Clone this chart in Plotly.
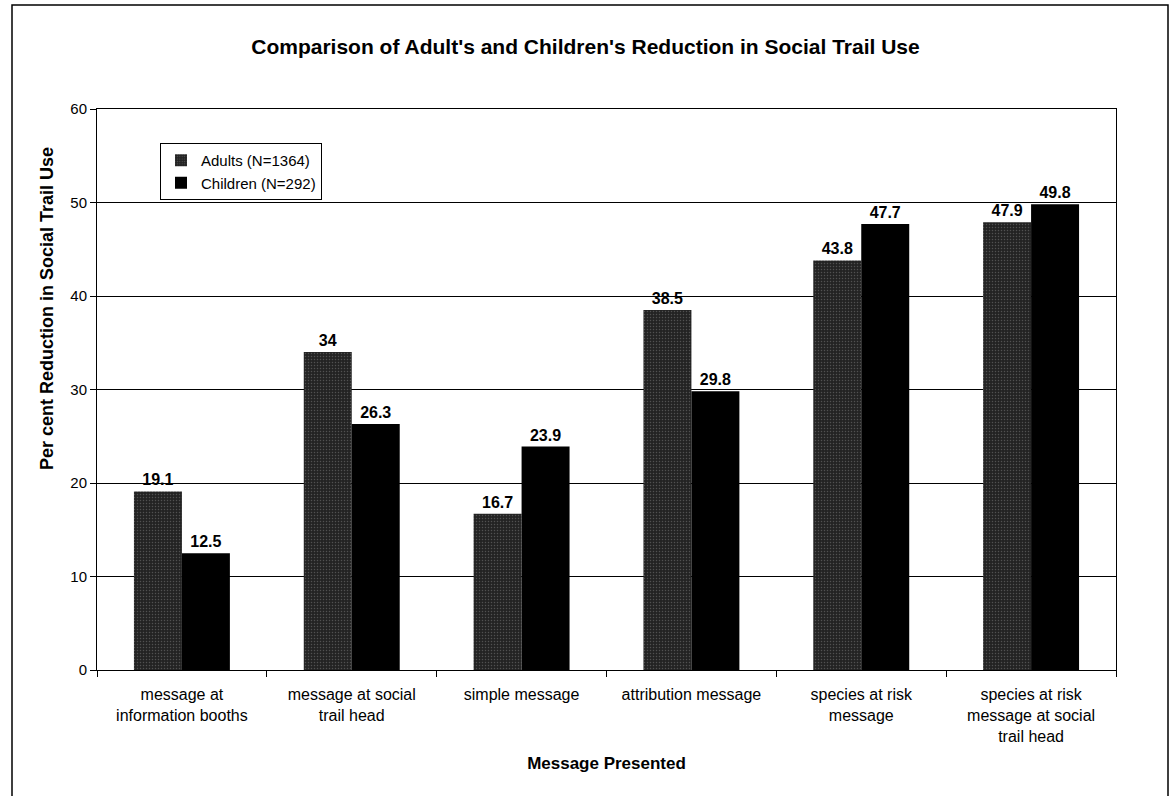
import plotly.graph_objects as go

categories = ["message at<br>information booths", "message at social<br>trail head", "simple message",
              "attribution message", "species at risk<br>message", "species at risk<br>message at social<br>trail head"]
adults = [19.1, 34, 16.7, 38.5, 43.8, 47.9]
children = [12.5, 26.3, 23.9, 29.8, 47.7, 49.8]
adult_labels = ["19.1", "34", "16.7", "38.5", "43.8", "47.9"]
child_labels = ["12.5", "26.3", "23.9", "29.8", "47.7", "49.8"]

FONT = "Liberation Sans, Arial, sans-serif"

fig = go.Figure()
fig.add_trace(go.Bar(
    x=categories, y=adults, name="Adults (N=1364)",
    text=["<b>%s</b>" % t for t in adult_labels], textposition="outside",
    textfont=dict(family=FONT, size=16, color="black"),
    marker=dict(color="#232323", line=dict(width=0),
                pattern=dict(shape=".", fgcolor="#808080", size=3, solidity=0.2)),
    cliponaxis=False,
))
fig.add_trace(go.Bar(
    x=categories, y=children, name="Children (N=292)",
    text=["<b>%s</b>" % t for t in child_labels], textposition="outside",
    textfont=dict(family=FONT, size=16, color="black"),
    marker=dict(color="black", line=dict(width=0)),
    cliponaxis=False,
))

L, R, T, B = 97, 1116, 109, 670
W, H = 1171, 796
def px(x):
    return (x - L) / (R - L)
def py(y):
    return (B - y) / (B - T)

fig.update_layout(
    width=W, height=H,
    margin=dict(l=L, r=W - R, t=T, b=H - B),
    paper_bgcolor="white", plot_bgcolor="white",
    barmode="group", bargap=0.435, bargroupgap=0,
    font=dict(family=FONT, size=15, color="black"),
    title=dict(text="<b>Comparison of Adult's and Children's Reduction in Social Trail Use</b>",
               x=0.5, xanchor="center", y=1 - 47 / H, yanchor="middle",
               font=dict(size=21, family=FONT)),
    legend=dict(x=px(160), y=py(143), xanchor="left", yanchor="top",
                bgcolor="white", bordercolor="black", borderwidth=1,
                font=dict(size=15, family=FONT), tracegroupgap=0,
                itemwidth=30),
    showlegend=True,
    uniformtext=dict(mode=False),
)
fig.update_yaxes(
    range=[0, 60], dtick=10, showgrid=True, gridcolor="black", gridwidth=1,
    showline=True, linecolor="black", linewidth=1, mirror=True,
    ticks="outside", ticklen=6, tickcolor="black", zeroline=False,
    tickfont=dict(size=15),
)
fig.update_xaxes(
    showline=True, linecolor="black", linewidth=1, mirror=True,
    ticks="outside", ticklen=6, tickcolor="black", tickson="boundaries",
    tickfont=dict(size=16), ticklabelstandoff=10,
    title=dict(text="<b>Message Presented</b>", font=dict(size=17), standoff=13),
)
# y-axis title placed as in the reference
fig.add_annotation(text="<b>Per cent Reduction in Social Trail Use</b>", textangle=-90,
                   xref="paper", yref="paper", x=px(47), y=py(309),
                   xanchor="center", yanchor="middle", showarrow=False,
                   font=dict(size=18, family=FONT, color="black"))
# outer border of chart area
fig.add_shape(type="rect", xref="paper", yref="paper",
              x0=px(12), x1=px(1168), y0=py(5), y1=py(800),
              line=dict(color="black", width=1.5), fillcolor="rgba(0,0,0,0)", layer="below")

fig.write_html("out.html")
